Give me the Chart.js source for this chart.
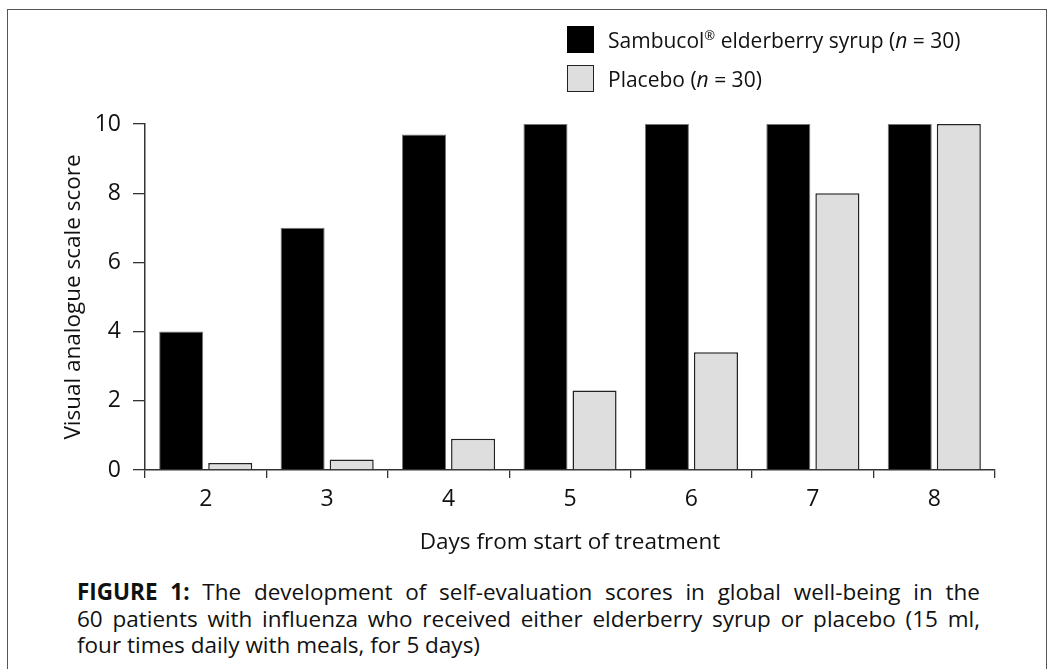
<!DOCTYPE html>
<html>
<head>
<meta charset="utf-8">
<script src="https://cdn.jsdelivr.net/npm/chart.js@4.4.0/dist/chart.umd.min.js"></script>
<style>
  body { margin: 0; background: #fff; font-family: "Open Sans", "Noto Sans", sans-serif; color: #111; }
  #page { position: relative; width: 1049px; height: 669px; overflow: hidden; }
  #frame { position: absolute; left: 7px; top: 9px; width: 1040px; height: 700px; border: 1px solid #555; box-sizing: border-box; }
  #wrap { position: absolute; left: 0; top: 0; width: 1049px; height: 556px; }
  #legend { position: absolute; left: 567px; top: 26px; font-size: 21px; }
  .item { display: flex; align-items: center; height: 27px; margin-bottom: 12px; }
  .box { width: 27px; height: 27px; box-sizing: border-box; margin-right: 14px; }
  .item sup { font-size: 13px; vertical-align: 8px; line-height: 0; }
  #caption { position: absolute; left: 77px; top: 579px; width: 903px; font-size: 22.5px; line-height: 26.5px; }
  #caption .jl { display: block; text-align: justify; text-align-last: justify; }
  #caption span { display: block; white-space: nowrap; }
</style>
</head>
<body>
<div id="page">
  <div id="frame"></div>
  <div id="wrap"><canvas id="chart"></canvas></div>
  <div id="legend"></div>
  <div id="caption">
    <span class="jl"><b>FIGURE 1:</b> The development of self-evaluation scores in global well-being in the</span>
    <span class="jl">60 patients with influenza who received either elderberry syrup or placebo (15 ml,</span>
    <span>four times daily with meals, for 5 days)</span>
  </div>
</div>
<script>
const days = ['2', '3', '4', '5', '6', '7', '8'];
const sambucol = [4, 7, 9.7, 10, 10, 10, 10];
const placebo = [0.2, 0.3, 0.9, 2.3, 3.4, 8, 10];
const legendLabels = ['Sambucol<sup>®</sup> elderberry syrup (<i>n</i> = 30)', 'Placebo (<i>n</i> = 30)'];

const ctx = document.getElementById('chart').getContext('2d');
Chart.defaults.font.family = '"Open Sans", "Noto Sans", sans-serif';
Chart.defaults.color = '#111';

const chart = new Chart(ctx, {
  type: 'bar',
  data: {
    labels: days,
    datasets: [
      {
        label: 'Sambucol elderberry syrup (n = 30)',
        data: sambucol,
        backgroundColor: '#000',
        borderColor: '#777',
        borderWidth: 1,
        categoryPercentage: 0.808,
        barPercentage: 0.898
      },
      {
        label: 'Placebo (n = 30)',
        data: placebo,
        backgroundColor: '#dedede',
        borderColor: '#222',
        borderWidth: 1.5,
        categoryPercentage: 0.808,
        barPercentage: 0.898
      }
    ]
  },
  options: {
    responsive: true,
    maintainAspectRatio: false,
    animation: false,
    layout: { padding: { left: 60, right: 54, top: 124, bottom: 0 } },
    plugins: { legend: { display: false }, tooltip: { enabled: false } },
    scales: {
      x: {
        grid: { offset: true, drawOnChartArea: false, drawTicks: true, tickLength: 8, color: '#333', lineWidth: 1.3 },
        border: { display: true, color: '#333', width: 1.5 },
        ticks: { font: { size: 23 }, padding: 8, color: '#111' },
        title: { display: true, text: 'Days from start of treatment', font: { size: 22.5 }, color: '#111', padding: 0 },
        afterFit: (s) => { s.height = 556 - 470; }
      },
      y: {
        min: 0,
        max: 10,
        ticks: { stepSize: 2, font: { size: 23 }, padding: 12, color: '#111' },
        grid: { drawOnChartArea: false, drawTicks: true, tickLength: 12, color: '#333', lineWidth: 1.3 },
        border: { display: true, color: '#333', width: 1.5 },
        title: { display: true, text: 'Visual analogue scale score', font: { size: 22.5 }, color: '#111', padding: 0 },
        afterFit: (s) => { s.width = 145 - 60; }
      }
    }
  }
});

// legend built from the datasets
const legend = document.getElementById('legend');
chart.data.datasets.forEach((ds, i) => {
  const item = document.createElement('div');
  item.className = 'item';
  item.innerHTML = '<div class="box" style="background:' + ds.backgroundColor + ';border:1.5px solid ' + (i ? '#222' : '#000') + '"></div><span>' + legendLabels[i] + '</span>';
  legend.appendChild(item);
});
</script>
</body>
</html>
